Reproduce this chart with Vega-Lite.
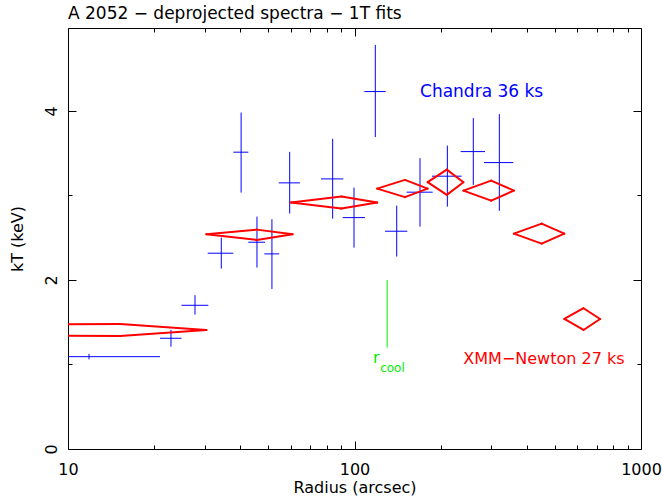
{
  "$schema": "https://vega.github.io/schema/vega-lite/v6.json",
  "width": 573,
  "height": 421,
  "autosize": {"type": "none"},
  "padding": {"left": 68, "top": 28, "right": 21, "bottom": 49},
  "background": "white",
  "title": {"text": "A 2052 − deprojected spectra − 1T fits", "anchor": "start", "frame": "group", "font": "DejaVu Sans", "fontSize": 17, "fontWeight": "normal", "color": "black", "baseline": "alphabetic", "offset": 9, "dy": 17},
  "config": {
    "view": {"stroke": "black", "strokeWidth": 1},
    "axis": {"grid": false, "domain": false, "tickColor": "black", "tickWidth": 1, "labelColor": "black", "titleColor": "black", "labelFont": "DejaVu Sans", "titleFont": "DejaVu Sans", "labelFontSize": 16, "titleFontSize": 16, "titleFontWeight": "normal", "labelOverlap": false, "labelFlush": false}
  },
  "datasets": {
    "chandra": [
      {"r": 11.84, "rlo": 10.0, "rhi": 20.95, "kT": 1.092, "kTlo": 1.06, "kThi": 1.125},
      {"r": 22.88, "rlo": 20.95, "rhi": 24.9, "kT": 1.31, "kTlo": 1.21, "kThi": 1.41},
      {"r": 27.75, "rlo": 24.9, "rhi": 30.9, "kT": 1.70, "kTlo": 1.59, "kThi": 1.82},
      {"r": 34.28, "rlo": 30.74, "rhi": 37.76, "kT": 2.316, "kTlo": 2.134, "kThi": 2.50},
      {"r": 40.2, "rlo": 37.76, "rhi": 42.6, "kT": 3.511, "kTlo": 3.033, "kThi": 3.98},
      {"r": 45.67, "rlo": 42.6, "rhi": 48.7, "kT": 2.446, "kTlo": 2.146, "kThi": 2.749},
      {"r": 51.5, "rlo": 48.45, "rhi": 54.6, "kT": 2.308, "kTlo": 1.893, "kThi": 2.718},
      {"r": 59.4, "rlo": 54.4, "rhi": 64.5, "kT": 3.148, "kTlo": 2.785, "kThi": 3.515},
      {"r": 83.9, "rlo": 76.4, "rhi": 91.4, "kT": 3.195, "kTlo": 2.725, "kThi": 3.669},
      {"r": 99.6, "rlo": 90.9, "rhi": 108.8, "kT": 2.737, "kTlo": 2.382, "kThi": 3.092},
      {"r": 118.2, "rlo": 108.2, "rhi": 128.5, "kT": 4.228, "kTlo": 3.689, "kThi": 4.78},
      {"r": 140.4, "rlo": 127.8, "rhi": 152.9, "kT": 2.576, "kTlo": 2.276, "kThi": 2.879},
      {"r": 169.3, "rlo": 152.1, "rhi": 187.5, "kT": 3.038, "kTlo": 2.631, "kThi": 3.44},
      {"r": 210.9, "rlo": 186.4, "rhi": 236.6, "kT": 3.227, "kTlo": 2.867, "kThi": 3.589},
      {"r": 259.8, "rlo": 234.8, "rhi": 285.5, "kT": 3.518, "kTlo": 3.124, "kThi": 3.914},
      {"r": 320.3, "rlo": 283.1, "rhi": 358.4, "kT": 3.388, "kTlo": 2.817, "kThi": 3.961}
    ],
    "xmm": [
      {"r": 15.2, "rlo": 0.01, "rhi": 30.4, "kT": 1.408, "kTlo": 1.337, "kThi": 1.479},
      {"r": 45.6, "rlo": 30.4, "rhi": 60.8, "kT": 2.541, "kTlo": 2.473, "kThi": 2.595},
      {"r": 90, "rlo": 60, "rhi": 120, "kT": 2.915, "kTlo": 2.844, "kThi": 2.986},
      {"r": 150, "rlo": 120, "rhi": 180, "kT": 3.080, "kTlo": 2.979, "kThi": 3.183},
      {"r": 210, "rlo": 180, "rhi": 240, "kT": 3.156, "kTlo": 3.006, "kThi": 3.305},
      {"r": 300, "rlo": 240, "rhi": 360, "kT": 3.057, "kTlo": 2.938, "kThi": 3.175},
      {"r": 450, "rlo": 360, "rhi": 540, "kT": 2.548, "kTlo": 2.430, "kThi": 2.666},
      {"r": 630, "rlo": 540, "rhi": 720, "kT": 1.538, "kTlo": 1.408, "kThi": 1.665}
    ]
  },
  "layer": [
    {
      "data": {"name": "chandra"},
      "mark": {"type": "rule", "color": "#0000ff", "strokeWidth": 1, "clip": true},
      "encoding": {
        "x": {"field": "rlo", "type": "quantitative", "scale": {"type": "log", "domain": [10, 1000], "nice": false},
              "axis": {"orient": "bottom", "values": [10, 100, 1000], "format": "d", "ticks": false, "labelPadding": 12, "title": "Radius (arcsec)", "titlePadding": 2}},
        "x2": {"field": "rhi"},
        "y": {"field": "kT", "type": "quantitative", "scale": {"domain": [0, 4.98], "nice": false, "zero": false},
              "axis": {"orient": "left", "values": [0, 2, 4], "ticks": false, "labelAngle": -90, "labelAlign": "center", "labelBaseline": "bottom", "labelPadding": 9, "title": "kT (keV)", "titlePadding": 18}}
      }
    },
    {
      "data": {"name": "chandra"},
      "mark": {"type": "rule", "color": "#0000ff", "strokeWidth": 1, "clip": true},
      "encoding": {
        "x": {"field": "r", "type": "quantitative", "scale": {"type": "log", "domain": [10, 1000], "nice": false},
              "axis": {"orient": "bottom", "values": [10, 100, 1000], "labels": false, "tickSize": -8, "title": null}},
        "y": {"field": "kTlo", "type": "quantitative", "scale": {"domain": [0, 4.98], "nice": false, "zero": false},
              "axis": {"orient": "left", "values": [0, 2, 4], "labels": false, "tickSize": -8, "title": null}},
        "y2": {"field": "kThi"}
      }
    },
    {
      "data": {"name": "xmm"},
      "mark": {"type": "rule", "color": "#ff0000", "strokeWidth": 2, "strokeCap": "round", "clip": true},
      "encoding": {
        "x": {"field": "rlo", "type": "quantitative", "scale": {"type": "log", "domain": [10, 1000], "nice": false},
              "axis": {"orient": "bottom", "values": [20, 30, 40, 50, 60, 70, 80, 90, 200, 300, 400, 500, 600, 700, 800, 900], "labels": false, "tickSize": -4, "title": null}},
        "y": {"field": "kT", "type": "quantitative", "scale": {"domain": [0, 4.98], "nice": false, "zero": false},
              "axis": {"orient": "left", "values": [1, 3], "labels": false, "tickSize": -4, "title": null}},
        "x2": {"field": "r"},
        "y2": {"field": "kThi"}
      }
    },
    {
      "data": {"name": "xmm"},
      "mark": {"type": "rule", "color": "#ff0000", "strokeWidth": 2, "strokeCap": "round", "clip": true},
      "encoding": {
        "x": {"field": "r", "type": "quantitative", "scale": {"type": "log", "domain": [10, 1000], "nice": false},
              "axis": {"orient": "top", "values": [10, 100, 1000], "labels": false, "tickSize": -8, "title": null}},
        "y": {"field": "kThi", "type": "quantitative", "scale": {"domain": [0, 4.98], "nice": false, "zero": false},
              "axis": {"orient": "right", "values": [0, 2, 4], "labels": false, "tickSize": -8, "title": null}},
        "x2": {"field": "rhi"},
        "y2": {"field": "kT"}
      }
    },
    {
      "data": {"name": "xmm"},
      "mark": {"type": "rule", "color": "#ff0000", "strokeWidth": 2, "strokeCap": "round", "clip": true},
      "encoding": {
        "x": {"field": "rhi", "type": "quantitative", "scale": {"type": "log", "domain": [10, 1000], "nice": false},
              "axis": {"orient": "top", "values": [20, 30, 40, 50, 60, 70, 80, 90, 200, 300, 400, 500, 600, 700, 800, 900], "labels": false, "tickSize": -4, "title": null}},
        "y": {"field": "kT", "type": "quantitative", "scale": {"domain": [0, 4.98], "nice": false, "zero": false},
              "axis": {"orient": "right", "values": [1, 3], "labels": false, "tickSize": -4, "title": null}},
        "x2": {"field": "r"},
        "y2": {"field": "kTlo"}
      }
    },
    {
      "data": {"name": "xmm"},
      "mark": {"type": "rule", "color": "#ff0000", "strokeWidth": 2, "strokeCap": "round", "clip": true},
      "encoding": {
        "x": {"field": "r", "type": "quantitative", "scale": {"type": "log", "domain": [10, 1000], "nice": false}, "axis": null},
        "y": {"field": "kTlo", "type": "quantitative", "scale": {"domain": [0, 4.98], "nice": false, "zero": false}, "axis": null},
        "x2": {"field": "rlo"},
        "y2": {"field": "kT"}
      }
    },
    {
      "data": {"values": [{"r": 130, "kTlo": 1.2, "kThi": 2.0}]},
      "mark": {"type": "rule", "color": "#00ee00", "strokeWidth": 1},
      "encoding": {
        "x": {"field": "r", "type": "quantitative", "scale": {"type": "log", "domain": [10, 1000], "nice": false}, "axis": null},
        "y": {"field": "kTlo", "type": "quantitative", "scale": {"domain": [0, 4.98], "nice": false, "zero": false}, "axis": null},
        "y2": {"field": "kThi"}
      }
    },
    {
      "data": {"values": [{"r": 169.3, "kT": 4.169, "label": "Chandra 36 ks"}]},
      "mark": {"type": "text", "color": "#0000ff", "font": "DejaVu Sans", "fontSize": 17, "align": "left", "baseline": "alphabetic"},
      "encoding": {
        "x": {"field": "r", "type": "quantitative", "scale": {"type": "log", "domain": [10, 1000], "nice": false}, "axis": null},
        "y": {"field": "kT", "type": "quantitative", "scale": {"domain": [0, 4.98], "nice": false, "zero": false}, "axis": null},
        "text": {"field": "label"}
      }
    },
    {
      "data": {"values": [{"r": 239.8, "kT": 1.006, "label": "XMM−Newton 27 ks"}]},
      "mark": {"type": "text", "color": "#ff0000", "font": "DejaVu Sans", "fontSize": 16, "align": "left", "baseline": "alphabetic"},
      "encoding": {
        "x": {"field": "r", "type": "quantitative", "scale": {"type": "log", "domain": [10, 1000], "nice": false}, "axis": null},
        "y": {"field": "kT", "type": "quantitative", "scale": {"domain": [0, 4.98], "nice": false, "zero": false}, "axis": null},
        "text": {"field": "label"}
      }
    },
    {
      "data": {"values": [{"r": 116.0, "kT": 1.018, "label": "r"}]},
      "mark": {"type": "text", "color": "#00ee00", "font": "DejaVu Sans", "fontSize": 16, "align": "left", "baseline": "alphabetic"},
      "encoding": {
        "x": {"field": "r", "type": "quantitative", "scale": {"type": "log", "domain": [10, 1000], "nice": false}, "axis": null},
        "y": {"field": "kT", "type": "quantitative", "scale": {"domain": [0, 4.98], "nice": false, "zero": false}, "axis": null},
        "text": {"field": "label"}
      }
    },
    {
      "data": {"values": [{"r": 122.9, "kT": 0.911, "label": "cool"}]},
      "mark": {"type": "text", "color": "#00ee00", "font": "DejaVu Sans", "fontSize": 12, "align": "left", "baseline": "alphabetic"},
      "encoding": {
        "x": {"field": "r", "type": "quantitative", "scale": {"type": "log", "domain": [10, 1000], "nice": false}, "axis": null},
        "y": {"field": "kT", "type": "quantitative", "scale": {"domain": [0, 4.98], "nice": false, "zero": false}, "axis": null},
        "text": {"field": "label"}
      }
    }
  ],
  "resolve": {"axis": {"x": "independent", "y": "independent"}}
}
